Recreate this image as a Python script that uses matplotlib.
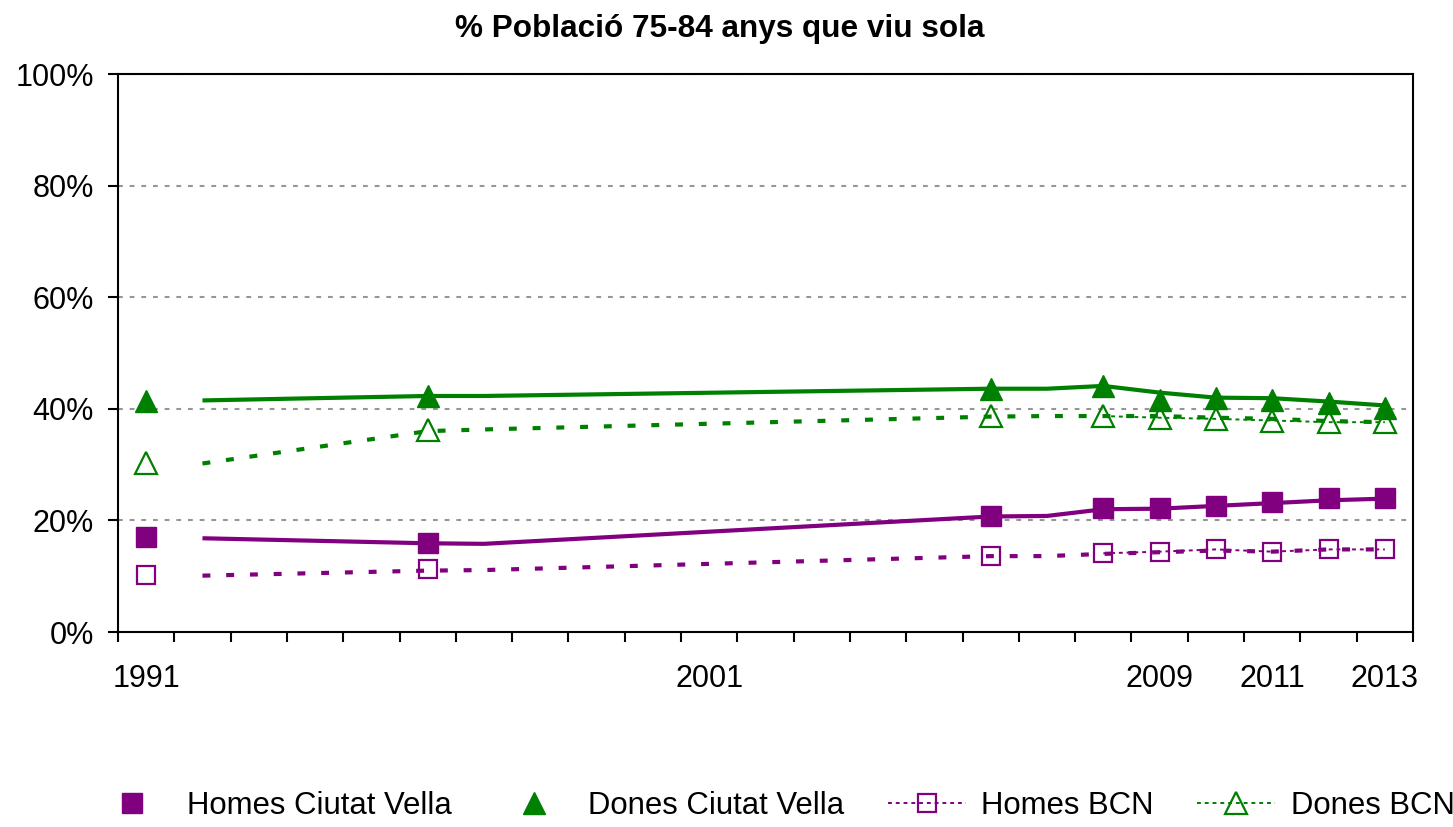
import matplotlib
matplotlib.use("Agg")
import matplotlib.pyplot as plt
from matplotlib.lines import Line2D
import numpy as np
import pandas as pd

plt.rcParams['font.family'] = ['Liberation Sans', 'DejaVu Sans']

# category axis: one slot per year
years = list(range(1991, 2014))
tick_labels = ['1991', '', '', '', '', '', '', '', '', '', '2001', '', '', '',
               '', '', '', '', '2009', '', '2011', '', '2013']

# marker series (observed years)
marker_years = [1991, 1996, 2006, 2008, 2009, 2010, 2011, 2012, 2013]
homes_cv = [17.0, 15.9, 20.8, 22.2, 22.2, 22.6, 23.3, 24.0, 24.0]
dones_cv = [41.4, 42.3, 43.6, 44.1, 41.5, 41.9, 41.5, 41.1, 40.1]
homes_bcn = [10.2, 11.3, 13.7, 14.1, 14.4, 14.8, 14.4, 14.8, 14.8]
dones_bcn = [30.2, 36.2, 38.7, 38.7, 38.4, 38.2, 37.9, 37.6, 37.6]

# thick trend lines (separate series in the source chart)
line_years = [1992, 1996, 1997, 2006, 2007, 2008, 2009, 2010, 2011, 2012, 2013]
homes_cv_line = [16.8, 15.9, 15.8, 20.7, 20.8, 22.0, 22.1, 22.6, 23.1, 23.6, 23.9]
dones_cv_line = [41.5, 42.3, 42.3, 43.6, 43.6, 44.1, 42.9, 42.0, 41.9, 41.3, 40.6]
homes_bcn_line = [10.1, 11.0, 11.1, 13.6, 13.6, 14.0, 14.3, 14.6, 14.4, 14.8, 14.8]
dones_bcn_line = [30.2, 36.0, 36.3, 38.6, 38.7, 38.7, 38.7, 38.4, 38.2, 37.8, 37.6]

purple = '#800080'
green = '#008000'

def pos(yrs):
    return [years.index(y) for y in yrs]

def full(vals):
    # reindex to every year so gaps break the thin line
    s = pd.Series(vals, index=marker_years).reindex(years)
    return s.values

fig = plt.figure(figsize=(14.53, 8.27), dpi=100)
ax = fig.add_axes([118 / 1453, 1 - 632 / 827, (1413 - 118) / 1453, (632 - 74) / 827])

x_all = np.arange(len(years))

# thick lines
ax.plot(pos(line_years), homes_cv_line, color=purple, lw=3, solid_capstyle='butt', zorder=3)
ax.plot(pos(line_years), dones_cv_line, color=green, lw=3, solid_capstyle='butt', zorder=3)
ax.plot(pos(line_years), homes_bcn_line, color=purple, lw=3, ls=(0, (1.9, 3.8)), zorder=3)
ax.plot(pos(line_years), dones_bcn_line, color=green, lw=3, ls=(0, (1.9, 3.8)), zorder=3)

# thin dotted connectors of BCN series
ax.plot(x_all, full(homes_bcn), color=purple, lw=1.4, ls=(0, (2, 2)), zorder=4)
ax.plot(x_all, full(dones_bcn), color=green, lw=1.4, ls=(0, (2, 2)), zorder=4)

# markers
ax.plot(pos(marker_years), homes_cv, ls='none', marker='s', ms=14.5,
        color=purple, mec=purple, zorder=5)
ax.plot(pos(marker_years), dones_cv, ls='none', marker='^', ms=16.5,
        color=green, mec=green, zorder=5)
ax.plot(pos(marker_years), homes_bcn, ls='none', marker='s', ms=13.5,
        mfc='none', mec=purple, mew=1.6, zorder=5)
ax.plot(pos(marker_years), dones_bcn, ls='none', marker='^', ms=15.5,
        mfc='none', mec=green, mew=1.6, zorder=5)

ax.set_xlim(-0.5, len(years) - 0.5)
ax.set_ylim(0, 100)

ax.set_yticks([0, 20, 40, 60, 80, 100])
ax.set_yticklabels(['0%', '20%', '40%', '60%', '80%', '100%'])
for yv in [20, 40, 60, 80, 100]:
    ax.axhline(yv, color='#969696', lw=1.5, ls=(0, (2.3, 3.3)), zorder=1)

ax.set_xticks(np.arange(-0.5, len(years)), minor=False)
ax.set_xticklabels([])
ax.set_xticks(x_all, minor=True)
ax.set_xticklabels(tick_labels, minor=True)
ax.tick_params(axis='x', which='major', length=7, width=1.5, direction='out')
ax.tick_params(axis='x', which='minor', length=0, pad=23, labelsize=22)
ax.tick_params(axis='y', length=7, width=1.5, direction='out', pad=10.5, labelsize=22)

for sp in ax.spines.values():
    sp.set_linewidth(1.5)
    sp.set_color('black')

fig.text(720 / 1453, 1 - 36.5 / 827, '% Població 75-84 anys que viu sola',
         ha='center', va='baseline', fontsize=22.7, fontweight='bold')

handles = [
    Line2D([], [], ls='none', marker='s', ms=14.5, color=purple),
    Line2D([], [], ls='none', marker='^', ms=16.5, color=green),
    Line2D([], [], color=purple, lw=1.4, ls=(0, (2, 2)), marker='s', ms=13.5,
           mfc='none', mec=purple, mew=1.6),
    Line2D([], [], color=green, lw=1.4, ls=(0, (2, 2)), marker='^', ms=15.5,
           mfc='none', mec=green, mew=1.6),
]
labels = ['Homes Ciutat Vella', 'Dones Ciutat Vella', 'Homes BCN', 'Dones BCN']
fig.legend(handles, labels, loc='center', bbox_to_anchor=(774 / 1453, 1 - 806 / 827),
           ncol=4, frameon=False, fontsize=22.4, handlelength=2.5,
           handletextpad=0.5, columnspacing=1.4, borderpad=0, borderaxespad=0)

fig.savefig('out.png', dpi=100)
